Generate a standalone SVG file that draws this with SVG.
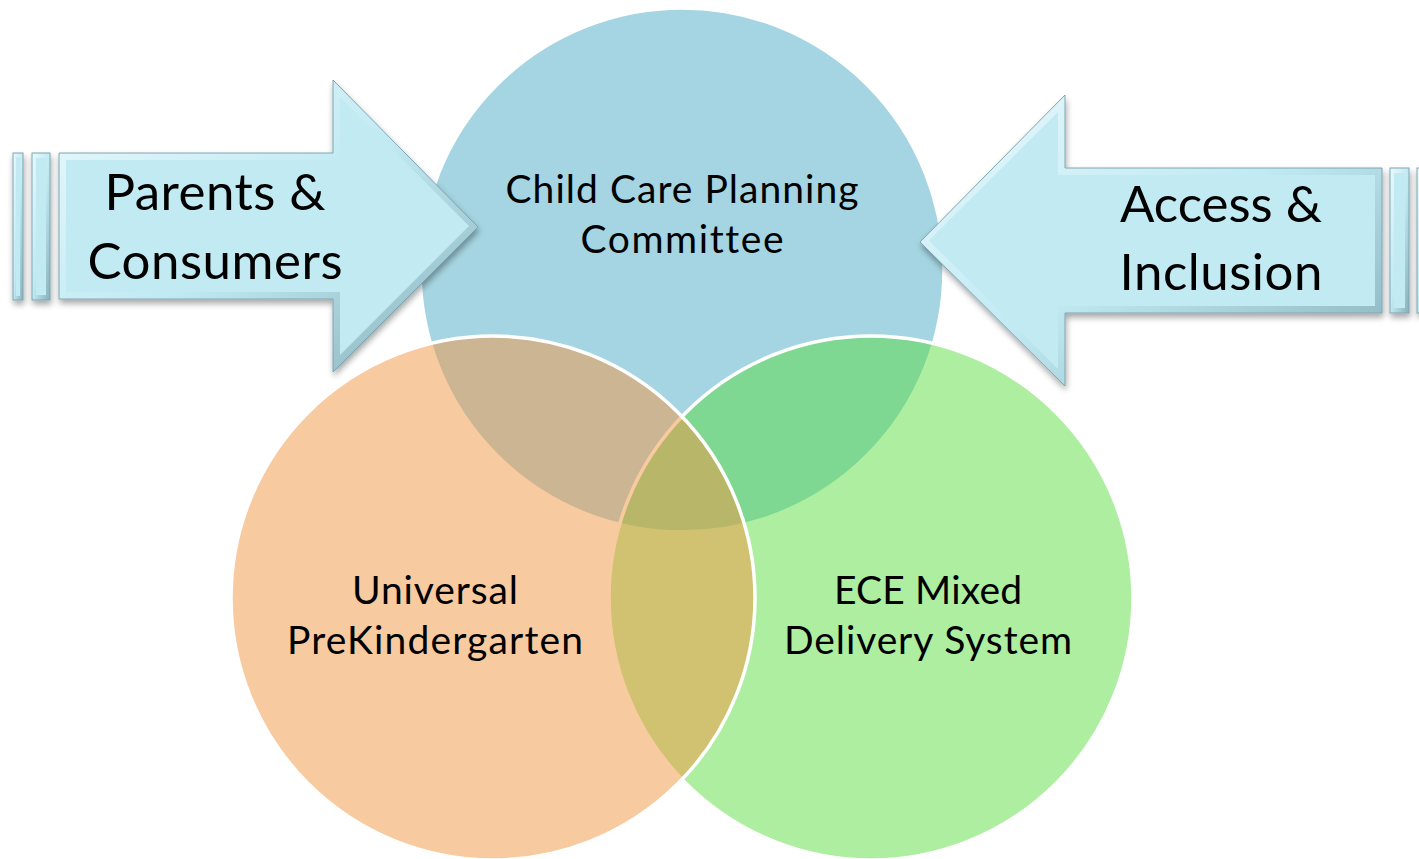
<svg xmlns="http://www.w3.org/2000/svg" width="1419" height="859" viewBox="0 0 1419 859">
<defs>
<style>
.lbl{font-family:Lato,"Open Sans","Liberation Sans",sans-serif;fill:#000;text-anchor:middle;font-variant-ligatures:none}
.big{font-size:51px}
.med{font-size:39px}
.circ{stroke:#fff;stroke-width:3.5}
.bev{fill:url(#bevel);stroke:#7EA6B1;stroke-width:1}
.face{fill:#C1EAF3}
</style>
<linearGradient id="bevel" x1="0" y1="0" x2="1" y2="1">
<stop offset="0" stop-color="#EAF9FC"/>
<stop offset="0.5" stop-color="#C1EAF3"/>
<stop offset="1" stop-color="#86AFBA"/>
</linearGradient>
<filter id="shadow" x="-10%" y="-10%" width="125%" height="130%">
<feGaussianBlur in="SourceAlpha" stdDeviation="3"/>
<feOffset dx="1" dy="4" result="b"/>
<feComponentTransfer><feFuncA type="linear" slope="0.35"/></feComponentTransfer>
<feMerge><feMergeNode/><feMergeNode in="SourceGraphic"/></feMerge>
</filter>
</defs>
<rect width="1419" height="859" fill="#fff"/>

<g id="circle-planning">
<circle class="circ" cx="682" cy="270" r="262" fill="#A5D5E2"/>
</g>
<g id="circle-ece">
<circle class="circ" cx="871" cy="598" r="262" fill="#56DB38" fill-opacity="0.48"/>
</g>
<g id="circle-upk">
<circle class="circ" cx="493" cy="598" r="262" fill="#F19541" fill-opacity="0.5"/>
</g>

<g id="arrow-left" filter="url(#shadow)">
<rect class="bev" x="13" y="153" width="10" height="147"/>
<rect class="face" x="16" y="157" width="4" height="139"/>
<rect class="bev" x="32" y="153" width="18" height="147"/>
<rect class="face" x="36" y="158" width="10" height="137"/>
<polygon class="bev" points="59,153 333,153 333,80 478,227 333,372 333,299 59,299"/>
<polygon class="face" points="66,160 340,160 340,97 469,226 340,355 340,292 66,292"/>
</g>
<g id="arrow-right" filter="url(#shadow)">
<polygon class="bev" points="1382,168 1065,168 1065,95 920,242 1065,386 1065,313 1382,313"/>
<polygon class="face" points="1375,175 1058,175 1058,112 929,240.5 1058,369 1058,306 1375,306"/>
<rect class="bev" x="1390" y="168" width="19" height="145"/>
<rect class="face" x="1394" y="173" width="11" height="135"/>
<rect class="bev" x="1417" y="168" width="14" height="145"/>
</g>

<g id="labels">
<text class="lbl med" x="682" y="203" textLength="353">Child Care Planning</text>
<text class="lbl med" x="682" y="253" textLength="203">Committee</text>
<text class="lbl med" x="435" y="604" textLength="166">Universal</text>
<text class="lbl med" x="435" y="654" textLength="296">PreKindergarten</text>
<text class="lbl med" x="928" y="604" textLength="188">ECE Mixed</text>
<text class="lbl med" x="928" y="654" textLength="288">Delivery System</text>
<text class="lbl big" x="215" y="210" textLength="221">Parents &amp;</text>
<text class="lbl big" x="215" y="279" textLength="255">Consumers</text>
<text class="lbl big" x="1221" y="222" textLength="202">Access &amp;</text>
<text class="lbl big" x="1221" y="290" textLength="203">Inclusion</text>
</g>
</svg>
